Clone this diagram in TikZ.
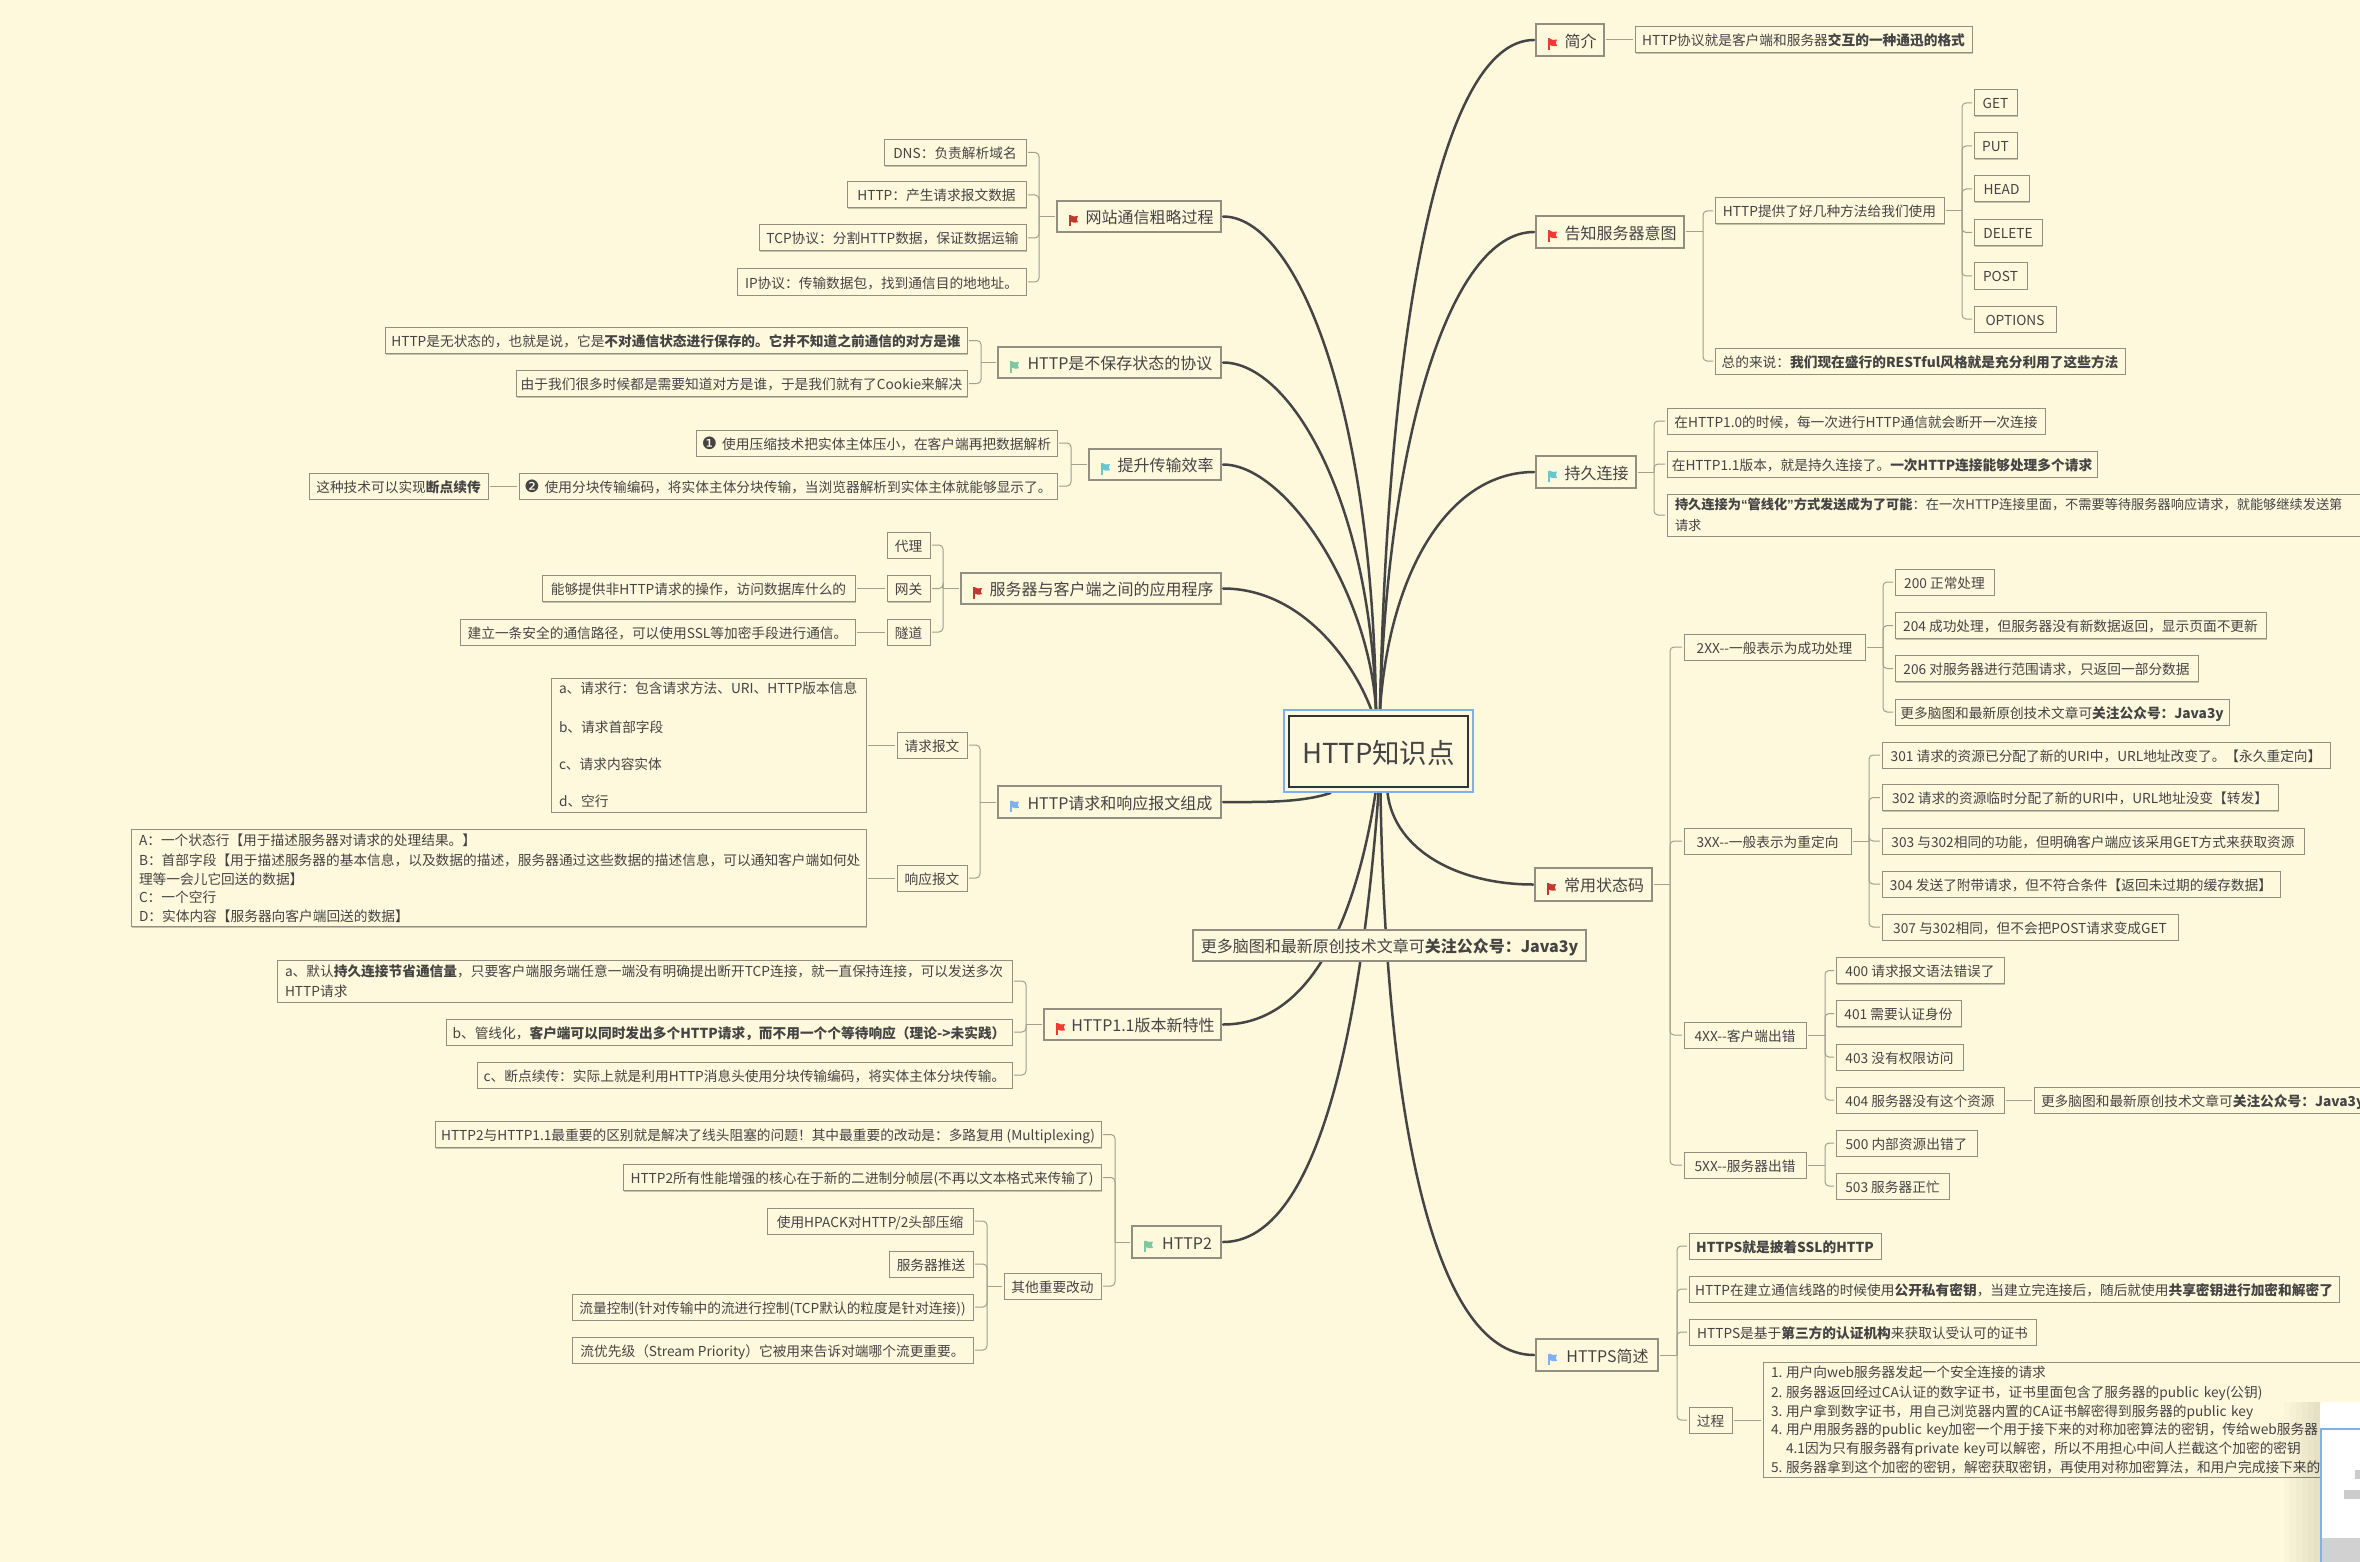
\documentclass[tikz,border=0pt]{standalone}
\usepackage{fontspec}
\setmainfont{Noto Sans CJK SC}
\newfontfamily\djv{DejaVu Sans}
\newfontfamily\lat{Liberation Sans}
\usetikzlibrary{backgrounds,shadows}
\definecolor{pagebg}{HTML}{FEF8DC}
\definecolor{ink}{HTML}{444444}
\definecolor{curvec}{HTML}{454545}
\definecolor{boxc}{HTML}{938E7F}
\definecolor{linec}{HTML}{A39E8E}
\definecolor{selblue}{HTML}{7EB0F0}
\definecolor{fdark}{HTML}{C0392F}
\definecolor{fred}{HTML}{EE3B30}
\definecolor{fteal}{HTML}{6CC4D2}
\definecolor{fblue}{HTML}{7FB0F0}
\definecolor{fgreen}{HTML}{7CC8A0}
\tikzset{
  leaf/.style={draw=boxc,line width=1pt,fill=pagebg,text=ink,inner sep=0pt,outer sep=2pt,
    font=\fontsize{13.7}{18.6}\selectfont,text height=13pt,text depth=1pt,
    drop shadow={shadow xshift=.8pt,shadow yshift=-1.2pt,opacity=.22,fill=black}},
  topic/.style={leaf,line width=1.2pt,font=\fontsize{16}{20}\selectfont,text height=16pt,text depth=1.5pt},
  sz/.style 2 args={minimum width=#1pt,minimum height=#2pt},
  lefttext/.style={align=left,text width=#1pt,text height={},text depth={},execute at begin node={\vspace*{2pt}}},
  br/.style={draw=linec,line width=1pt,rounded corners=4pt},
  maincurve/.style={draw=curvec,line width=2.5pt,line cap=round},
  flagmark/.pic={
    \fill[#1] (-1,-5.5) rectangle (.6,6);
    \fill[#1] (0,-5.5) .. controls (3,-4) and (5,-3.5) .. (8,-4.5) -- (6.8,-1.2) -- (8,1.8)
       .. controls (5,2.8) and (3,2.2) .. (0,.8) -- cycle;
  }
}
\newcommand\fg{\hspace*{21pt}}
\newcommand\badge[1]{{\djv\fontsize{17}{18}\selectfont #1}\hspace{5pt}}
\newcommand\branchR[3]{%
  \draw[br] (#1.east) -- ++(#2,0);
  \foreach \ch in {#3} {\draw[br] (#1.east) ++(#2,0) |- (\ch.west);}
}
\newcommand\branchL[3]{%
  \draw[br] (#1.west) -- ++(-#2,0);
  \foreach \ch in {#3} {\draw[br] (#1.west) ++(-#2,0) |- (\ch.east);}
}
\newcommand\linkR[2]{\draw[br] (#1.east) -- (#1.east -| #2.west);}
\newcommand\linkL[2]{\draw[br] (#1.west) -- (#1.west -| #2.east);}
\begin{document}
\begin{tikzpicture}[x=1pt,y=-1pt]
\useasboundingbox (0,0) rectangle (2360,1562);
\begin{pgfonlayer}{background}
  \fill[pagebg] (0,0) rectangle (2360,1562);
\end{pgfonlayer}
\clip (0,0) rectangle (2360,1562);

% root
\node[draw=selblue,line width=2pt,sz={189}{82}] (rootsel) at (1378.5,751) {};
\node[draw=black!80,line width=2pt,fill=pagebg,text=ink,sz={179}{71},font=\fontsize{27.5}{30}\selectfont,text height=27pt,text depth=3pt] (root) at (1378.5,751.5) {HTTP知识点};

% right side
\node[topic,sz={68}{32}] (jj) at (1570,40) {\fg 简介};
\node[leaf,sz={337}{26}] (jjd) at (1803.5,40) {HTTP协议就是客户端和服务器\textbf{交互的一种通迅的格式}};

\node[topic,sz={148}{32}] (gz) at (1610,232) {\fg 告知服务器意图};
\node[leaf,sz={229}{26}] (gzm) at (1829.5,211) {HTTP提供了好几种方法给我们使用};
\node[leaf,sz={43}{26}] (mget) at (1995.5,103) {GET};
\node[leaf,sz={43}{26}] (mput) at (1995.5,146) {PUT};
\node[leaf,sz={55}{26}] (mhead) at (2001.5,189) {HEAD};
\node[leaf,sz={68}{26}] (mdel) at (2008,232.5) {DELETE};
\node[leaf,sz={53}{26}] (mpost) at (2000.5,276) {POST};
\node[leaf,sz={82}{26}] (mopt) at (2015,319) {OPTIONS};
\node[leaf,sz={410}{26}] (gzs) at (1920,361) {总的来说：\textbf{我们现在盛行的RESTful风格就是充分利用了这些方法}};

\node[topic,sz={100}{32}] (cj) at (1586,472) {\fg 持久连接};
\node[leaf,sz={378}{26}] (cj1) at (1856,421) {在HTTP1.0的时候，每一次进行HTTP通信就会断开一次连接};
\node[leaf,sz={430}{26}] (cj2) at (1882,464) {在HTTP1.1版本，就是持久连接了。\textbf{一次HTTP连接能够处理多个请求}};
\node[leaf,sz={733}{42},lefttext=717,font=\fontsize{13.2}{18.6}\selectfont] (cj3) at (2033.5,515) {\textbf{持久连接为{\lat “}管线化{\lat ”}方式发送成为了可能}：在一次HTTP连接里面，不需要等待服务器响应请求，就能够继续发送第\\请求};

\node[topic,sz={117}{33}] (zt) at (1593.5,884.5) {\fg 常用状态码};
\node[leaf,sz={181}{26}] (x2) at (1774.5,647) {2XX-{}-一般表示为成功处理};
\node[leaf,sz={99}{26}] (s200) at (1944.5,582) {200 正常处理};
\node[leaf,sz={371}{26}] (s204) at (2080.5,625.5) {204 成功处理，但服务器没有新数据返回，显示页面不更新};
\node[leaf,sz={303}{26}] (s206) at (2046.5,668.5) {206 对服务器进行范围请求，只返回一部分数据};
\node[leaf,sz={334}{26}] (s2m) at (2062,712) {更多脑图和最新原创技术文章可\textbf{关注公众号：Java3y}};
\node[leaf,sz={167}{26}] (x3) at (1767.5,841) {3XX-{}-一般表示为重定向};
\node[leaf,sz={448}{26}] (s301) at (2106,755) {301 请求的资源已分配了新的URI中，URL地址改变了。【永久重定向】};
\node[leaf,sz={396}{26}] (s302) at (2080,797.5) {302 请求的资源临时分配了新的URI中，URL地址没变【转发】};
\node[leaf,sz={422}{26}] (s303) at (2093,841) {303 与302相同的功能，但明确客户端应该采用GET方式来获取资源};
\node[leaf,sz={398}{26}] (s304) at (2081,884) {304 发送了附带请求，但不符合条件【返回未过期的缓存数据】};
\node[leaf,sz={296}{26}] (s307) at (2030,927) {307 与302相同，但不会把POST请求变成GET};
\node[leaf,sz={122}{26}] (x4) at (1745,1035) {4XX-{}-客户端出错};
\node[leaf,sz={168}{26}] (s400) at (1920,970.5) {400 请求报文语法错误了};
\node[leaf,sz={125}{26}] (s401) at (1898.5,1013.5) {401 需要认证身份};
\node[leaf,sz={127}{26}] (s403) at (1899.5,1057) {403 没有权限访问};
\node[leaf,sz={168}{26}] (s404) at (1920,1100) {404 服务器没有这个资源};
\node[leaf,sz={366}{26},align=left,text width=352pt] (s4m) at (2217,1100) {更多脑图和最新原创技术文章可\textbf{关注公众号：Java3y}};
\node[leaf,sz={122}{26}] (x5) at (1745,1165) {5XX-{}-服务器出错};
\node[leaf,sz={141}{26}] (s500) at (1906.5,1143) {500 内部资源出错了};
\node[leaf,sz={113}{26}] (s503) at (1892.5,1186) {503 服务器正忙};

\node[topic,sz={122}{32}] (hs) at (1597,1355) {\fg HTTPS简述};
\node[leaf,sz={192}{26}] (hs1) at (1785,1246) {\textbf{HTTPS就是披着SSL的HTTP}};
\node[leaf,sz={650}{26}] (hs2) at (2014,1289) {HTTP在建立通信线路的时候使用\textbf{公开私有密钥}，当建立完连接后，随后就使用\textbf{共享密钥进行加密和解密了}};
\node[leaf,sz={347}{26}] (hs3) at (1862.5,1332) {HTTPS是基于\textbf{第三方的认证机构}来获取认受认可的证书};
\node[leaf,sz={43}{26}] (hs4) at (1710.5,1420) {过程};
\node[leaf,sz={637}{115},lefttext=621] (hs5) at (2081.5,1419.5) {\makebox[15pt][l]{1.}用户向web服务器发起一个安全连接的请求\\
\makebox[15pt][l]{2.}服务器返回经过CA认证的数字证书，证书里面包含了服务器的public key(公钥)\\
\makebox[15pt][l]{3.}用户拿到数字证书，用自己浏览器内置的CA证书解密得到服务器的public key\\
\makebox[15pt][l]{4.}用户用服务器的public key加密一个用于接下来的对称加密算法的密钥，传给web服务器\\
\hspace*{15pt}4.1因为只有服务器有private key可以解密，所以不用担心中间人拦截这个加密的密钥\\
\makebox[15pt][l]{5.}服务器拿到这个加密的密钥，解密获取密钥，再使用对称加密算法，和用户完成接下来的};

% left side
\node[topic,sz={164}{31}] (wz) at (1139,216.5) {\fg 网站通信粗略过程};
\node[leaf,sz={142}{26}] (wz1) at (955,152.5) {DNS：负责解析域名};
\node[leaf,sz={179}{26}] (wz2) at (936.5,195) {HTTP：产生请求报文数据};
\node[leaf,sz={267}{26}] (wz3) at (892.5,238) {TCP协议：分割HTTP数据，保证数据运输};
\node[leaf,sz={289}{26}] (wz4) at (881.5,282) {IP协议：传输数据包，找到通信目的地地址。};

\node[topic,sz={223}{31}] (bc) at (1109.5,362.5) {\fg HTTP是不保存状态的协议};
\node[leaf,sz={582}{26}] (bc1) at (676,340.5) {HTTP是无状态的，也就是说，它是\textbf{不对通信状态进行保存的。它并不知道之前通信的对方是谁}};
\node[leaf,sz={451}{26}] (bc2) at (741.5,383.5) {由于我们很多时候都是需要知道对方是谁，于是我们就有了Cookie来解决};

\node[topic,sz={132}{31}] (ts) at (1155,464.5) {\fg 提升传输效率};
\node[leaf,sz={361}{26}] (ts1) at (876.5,443) {\badge{❶}使用压缩技术把实体主体压小，在客户端再把数据解析};
\node[leaf,sz={538}{26}] (ts2) at (788,486) {\badge{❷}使用分块传输编码，将实体主体分块传输，当浏览器解析到实体主体就能够显示了。};
\node[leaf,sz={179}{26}] (ts3) at (398.5,486) {这种技术可以实现\textbf{断点续传}};

\node[topic,sz={260}{31}] (fw) at (1091,588.5) {\fg 服务器与客户端之间的应用程序};
\node[leaf,sz={43}{26}] (fw1) at (908.5,545) {代理};
\node[leaf,sz={43}{26}] (fw2) at (908.5,588.5) {网关};
\node[leaf,sz={43}{26}] (fw3) at (908.5,632) {隧道};
\node[leaf,sz={313}{26}] (fw2d) at (698.5,588.5) {能够提供非HTTP请求的操作，访问数据库什么的};
\node[leaf,sz={395}{26}] (fw3d) at (657.5,632) {建立一条安全的通信路径，可以使用SSL等加密手段进行通信。};

\node[topic,sz={223}{32}] (bw) at (1109.5,802) {\fg HTTP请求和响应报文组成};
\node[leaf,sz={70}{26}] (bw1) at (932,745) {请求报文};
\node[leaf,sz={70}{26}] (bw2) at (932,878) {响应报文};
\node[leaf,sz={315}{134},lefttext=299] (bw1d) at (708.5,745) {a、请求行：包含请求方法、URI、HTTP版本信息\\[18.4pt]
b、请求首部字段\\[18.4pt]
c、请求内容实体\\[18.4pt]
d、空行};
\node[leaf,sz={735}{97},lefttext=719] (bw2d) at (498.5,878) {A：一个状态行【用于描述服务器对请求的处理结果。】\\
B：首部字段【用于描述服务器的基本信息，以及数据的描述，服务器通过这些数据的描述信息，可以通知客户端如何处\\
理等一会儿它回送的数据】\\
C：一个空行\\
D：实体内容【服务器向客户端回送的数据】};

\node[topic,sz={393}{31}] (more) at (1389.5,945.5) {更多脑图和最新原创技术文章可\textbf{关注公众号：Java3y}};

\node[topic,sz={177}{31}] (h11) at (1132.5,1024.5) {\fg HTTP1.1版本新特性};
\node[leaf,sz={735}{42},lefttext=719] (h11a) at (644.5,981) {a、默认\textbf{持久连接节省通信量}，只要客户端服务端任意一端没有明确提出断开TCP连接，就一直保持连接，可以发送多次\\HTTP请求};
\node[leaf,sz={566}{26}] (h11b) at (729,1032) {b、管线化，\textbf{客户端可以同时发出多个HTTP请求，而不用一个个等待响应（理论->未实践）}};
\node[leaf,sz={535}{26}] (h11c) at (744.5,1075) {c、断点续传：实际上就是利用HTTP消息头使用分块传输编码，将实体主体分块传输。};

\node[topic,sz={89}{32}] (h2) at (1176.5,1242) {\fg HTTP2};
\node[leaf,sz={666}{26}] (h2a) at (768,1134.5) {HTTP2与HTTP1.1最重要的区别就是解决了线头阻塞的问题！其中最重要的改动是：多路复用 (Multiplexing)};
\node[leaf,sz={478}{26}] (h2b) at (862,1177.5) {HTTP2所有性能增强的核心在于新的二进制分帧层(不再以文本格式来传输了)};
\node[leaf,sz={97}{26}] (h2c) at (1052.5,1286) {其他重要改动};
\node[leaf,sz={206}{26}] (h2c1) at (870,1221) {使用HPACK对HTTP/2头部压缩};
\node[leaf,sz={84}{26}] (h2c2) at (931,1264) {服务器推送};
\node[leaf,sz={401}{26}] (h2c3) at (772.5,1307) {流量控制(针对传输中的流进行控制(TCP默认的粒度是针对连接))};
\node[leaf,sz={401}{26}] (h2c4) at (772.5,1350) {流优先级（Stream Priority）它被用来告诉对端哪个流更重要。};

% flags
\pic at ([xshift=15pt,yshift=-4pt]jj.west) {flagmark=fred};
\pic at ([xshift=15pt,yshift=-4pt]gz.west) {flagmark=fred};
\pic at ([xshift=15pt,yshift=-4pt]cj.west) {flagmark=fteal};
\pic at ([xshift=15pt,yshift=-4pt]zt.west) {flagmark=fdark};
\pic at ([xshift=15pt,yshift=-4pt]hs.west) {flagmark=fblue};
\pic at ([xshift=15pt,yshift=-4pt]wz.west) {flagmark=fdark};
\pic at ([xshift=15pt,yshift=-4pt]bc.west) {flagmark=fgreen};
\pic at ([xshift=15pt,yshift=-4pt]ts.west) {flagmark=fteal};
\pic at ([xshift=15pt,yshift=-4pt]fw.west) {flagmark=fdark};
\pic at ([xshift=15pt,yshift=-4pt]bw.west) {flagmark=fblue};
\pic at ([xshift=15pt,yshift=-4pt]h11.west) {flagmark=fred};
\pic at ([xshift=15pt,yshift=-4pt]h2.west) {flagmark=fgreen};

% window overlapping the corner, with its soft shadow
\foreach \sx in {2284,2290,2296,2302,2308,2314}
  \fill[black,opacity=.016] (\sx,1402) rectangle (2320,1562);
\fill[white,rounded corners=3pt] (2320,1402) rectangle (2370,1570);
\fill[black!18] (2320,1538) rectangle (2360,1562);
\draw[selblue,line width=2pt] (2321,1562) -- (2321,1429) -- (2360,1429);
\fill[black!20] (2355,1470) rectangle (2360,1479);
\fill[black!20] (2344,1490) rectangle (2360,1499);

\begin{pgfonlayer}{background}
  % branches
  \linkR{jj}{jjd}
  \branchR{gz}{17}{gzm,gzs}
  \branchR{gzm}{16}{mget,mput,mhead,mdel,mpost,mopt}
  \branchR{cj}{16}{cj1,cj2,cj3}
  \branchR{zt}{16}{x2,x3,x4,x5}
  \branchR{x2}{16}{s200,s204,s206,s2m}
  \branchR{x3}{16}{s301,s302,s303,s304,s307}
  \branchR{x4}{17}{s400,s401,s403,s404}
  \linkR{s404}{s4m}
  \branchR{x5}{17}{s500,s503}
  \branchR{hs}{17}{hs1,hs2,hs3,hs4}
  \linkR{hs4}{hs5}
  \branchL{wz}{16}{wz1,wz2,wz3,wz4}
  \branchL{bc}{15}{bc1,bc2}
  \branchL{ts}{16}{ts1,ts2}
  \linkL{ts2}{ts3}
  \branchL{fw}{16}{fw1,fw2,fw3}
  \linkL{fw2}{fw2d}
  \linkL{fw3}{fw3d}
  \branchL{bw}{16}{bw1,bw2}
  \linkL{bw1}{bw1d}
  \linkL{bw2}{bw2d}
  \branchL{h11}{16}{h11a,h11b,h11c}
  \branchL{h2}{15}{h2a,h2b,h2c}
  \branchL{h2c}{15}{h2c1,h2c2,h2c3,h2c4}
  % main curves
  \draw[maincurve] ([xshift=1.5pt]rootsel.north) .. controls +(8,-380) and +(-94,0) .. (jj.west);
  \draw[maincurve] ([xshift=1.5pt]rootsel.north) .. controls +(8,-270) and +(-84,0) .. (gz.west);
  \draw[maincurve] ([xshift=1.5pt]rootsel.north) .. controls +(10,-140) and +(-84,0) .. (cj.west);
  \draw[maincurve] ([xshift=-2.5pt]rootsel.north) .. controls +(-4,-310) and +(72,0) .. (wz.east);
  \draw[maincurve] ([xshift=-2.5pt]rootsel.north) .. controls +(-6,-210) and +(67,0) .. (bc.east);
  \draw[maincurve] ([xshift=-2.5pt]rootsel.north) .. controls +(-8,-120) and +(62,0) .. (ts.east);
  \draw[maincurve] ([xshift=-7.5pt]rootsel.north) .. controls +(-19,-50) and +(77,0) .. (fw.east);
  \draw[maincurve] ([xshift=-48pt]rootsel.south) .. controls +(-30,10) and +(37,0) .. (bw.east);
  \draw[maincurve] ([xshift=-3pt]rootsel.south) .. controls +(-20,128) and +(87,0) .. (h11.east);
  \draw[maincurve] (rootsel.south) .. controls +(-20,268) and +(87,0) .. (h2.east);
  \draw[maincurve] ([xshift=2pt]rootsel.south) .. controls +(5,308) and +(-104,0) .. (hs.west);
  \draw[maincurve] ([xshift=9pt]rootsel.south) .. controls +(7,58) and +(-74,0) .. (zt.west);
\end{pgfonlayer}
\end{tikzpicture}
\end{document}
